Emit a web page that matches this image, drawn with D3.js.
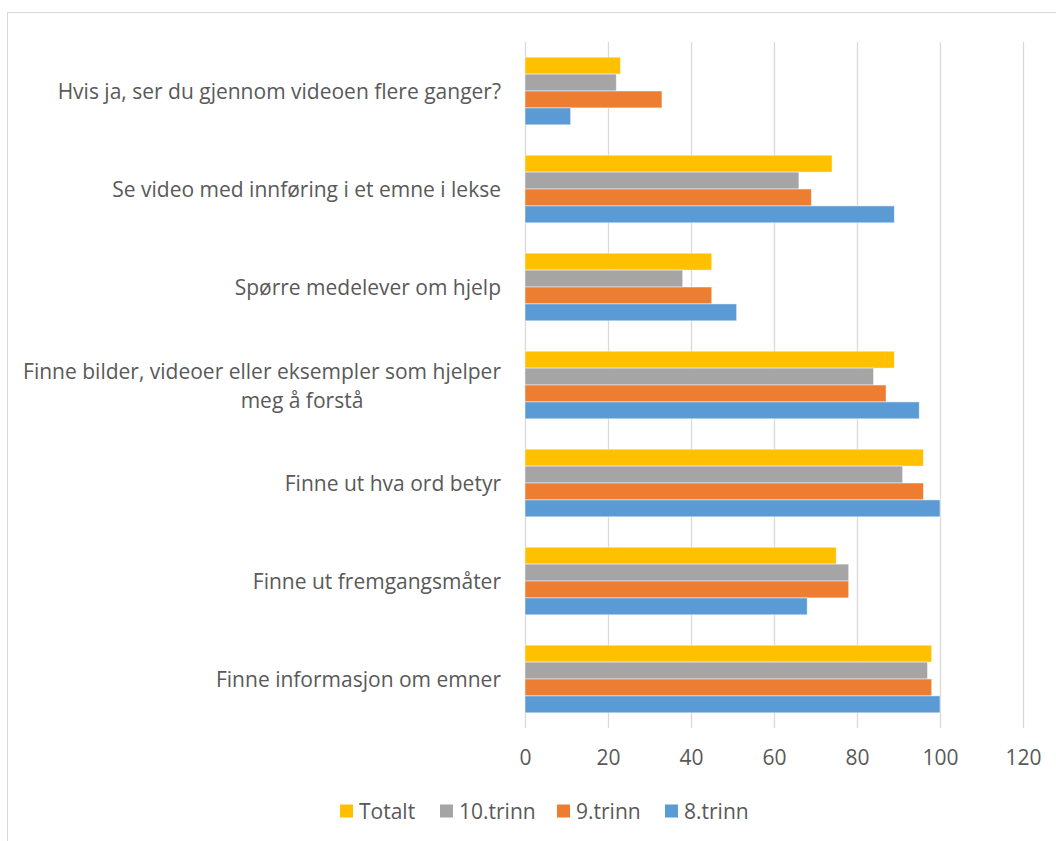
<!DOCTYPE html>
<html>
<head>
<meta charset="utf-8">
<script src="https://cdn.jsdelivr.net/npm/d3@7"></script>
<style>
  html, body { margin: 0; padding: 0; background: #fff; }
  svg { display: block; font-family: "Open Sans", "Noto Sans", sans-serif; }
</style>
</head>
<body>
<svg id="chart" width="1056" height="841"></svg>
<script>
// Survey questions, listed top to bottom
const categories = [
  "Hvis ja, ser du gjennom videoen flere ganger?",
  "Se video med innføring i et emne i lekse",
  "Spørre medelever om hjelp",
  "Finne bilder, videoer eller eksempler som hjelper meg å forstå",
  "Finne ut hva ord betyr",
  "Finne ut fremgangsmåter",
  "Finne informasjon om emner"
];
// Wrapped lines for the long label
const categoryLines = [
  ["Hvis ja, ser du gjennom videoen flere ganger?"],
  ["Se video med innføring i et emne i lekse"],
  ["Spørre medelever om hjelp"],
  ["Finne bilder, videoer eller eksempler som hjelper", "meg å forstå"],
  ["Finne ut hva ord betyr"],
  ["Finne ut fremgangsmåter"],
  ["Finne informasjon om emner"]
];

const seriesNames = ["Totalt", "10.trinn", "9.trinn", "8.trinn"];
const totalt   = [23, 74, 45, 89, 96, 75, 98];
const trinn10  = [22, 66, 38, 84, 91, 78, 97];
const trinn9   = [33, 69, 45, 87, 96, 78, 98];
const trinn8   = [11, 89, 51, 95, 100, 68, 100];
const seriesValues = [totalt, trinn10, trinn9, trinn8];
const seriesColors = ["#FFC000", "#A5A5A5", "#ED7D31", "#5B9BD5"];
const xTicks = [0, 20, 40, 60, 80, 100, 120];

const svg = d3.select("#chart");
const textColor = "#595959";
const fontSize = 21;

// Chart frame
svg.append("rect")
  .attr("x", 7.5).attr("y", 12.5)
  .attr("width", 1060).attr("height", 840)
  .attr("fill", "#fff").attr("stroke", "#d9d9d9").attr("stroke-width", 1);

const plot = { left: 525, right: 1023, top: 42, bottom: 728 };

const x = d3.scaleLinear().domain([0, 120]).range([plot.left, plot.right]);
const y0 = d3.scaleBand().domain(categories).range([plot.top, plot.bottom])
  .paddingInner(0.31).paddingOuter(0.155);
const y1 = d3.scaleBand().domain(seriesNames).range([0, y0.bandwidth()]);

// Vertical gridlines
svg.append("g").selectAll("line").data(xTicks).join("line")
  .attr("x1", d => Math.round(x(d)) + 0.5).attr("x2", d => Math.round(x(d)) + 0.5)
  .attr("y1", plot.top).attr("y2", plot.bottom)
  .attr("stroke", "#d9d9d9").attr("stroke-width", 1.3);

// Bars
const rows = categories.map((c, i) => ({
  cat: c,
  vals: seriesNames.map((s, j) => ({ s, v: seriesValues[j][i], color: seriesColors[j] }))
}));

const groups = svg.append("g").selectAll("g").data(rows).join("g")
  .attr("transform", d => `translate(0,${y0(d.cat)})`);

groups.selectAll("rect").data(d => d.vals).join("rect")
  .attr("x", x(0))
  .attr("y", d => y1(d.s))
  .attr("width", d => x(d.v) - x(0))
  .attr("height", y1.bandwidth())
  .attr("fill", d => d.color)
  .attr("stroke", "#ffffff").attr("stroke-opacity", 0.6).attr("stroke-width", 0.8);

// Category labels
svg.append("g").selectAll("text").data(categories).join("text")
  .attr("fill", textColor)
  .attr("font-size", fontSize)
  .attr("dominant-baseline", "central")
  .each(function(c, i) {
    const lines = categoryLines[i];
    const cy = y0(c) + y0.bandwidth() / 2;
    const t = d3.select(this);
    if (lines.length === 1) {
      t.attr("x", 501).attr("y", cy).attr("text-anchor", "end").text(lines[0]);
    } else {
      const lh = 29;
      lines.forEach((ln, k) => {
        t.append("tspan")
          .attr("x", k === 0 ? 501 : 302)
          .attr("text-anchor", k === 0 ? "end" : "middle")
          .attr("y", cy + (k - (lines.length - 1) / 2) * lh)
          .text(ln);
      });
    }
  });

// X axis tick labels
const xAxis = d3.axisBottom(x).tickValues(xTicks).tickSize(0).tickPadding(0);
const axisG = svg.append("g").attr("transform", `translate(0,${plot.bottom})`).call(xAxis);
axisG.select(".domain").remove();
axisG.selectAll("text")
  .attr("fill", textColor)
  .attr("font-size", fontSize)
  .attr("font-family", "\"Open Sans\", sans-serif")
  .attr("dy", null)
  .attr("y", 29)
  .attr("dominant-baseline", "central");

// Legend
const legendX = [340, 440, 557, 665];
const legend = svg.append("g").selectAll("g").data(seriesNames).join("g")
  .attr("transform", (d, i) => `translate(${legendX[i]},811)`);
legend.append("rect")
  .attr("x", 0).attr("y", -6.5).attr("width", 13).attr("height", 13)
  .attr("fill", (d, i) => seriesColors[i]);
legend.append("text")
  .attr("x", 19).attr("y", 0)
  .attr("dominant-baseline", "central")
  .attr("fill", textColor).attr("font-size", fontSize)
  .text(d => d);
</script>
</body>
</html>
